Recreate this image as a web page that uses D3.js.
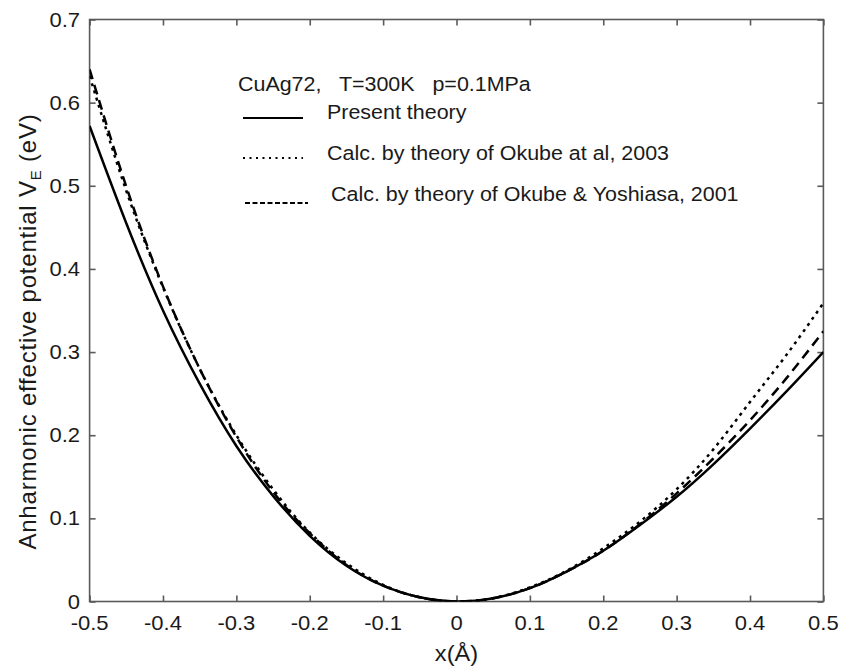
<!DOCTYPE html>
<html>
<head>
<meta charset="utf-8">
<script src="https://cdn.jsdelivr.net/npm/d3@7"></script>
<style>
  html, body { margin: 0; padding: 0; background: #fff; }
  svg text { font-family: "Liberation Sans", Arial, sans-serif; fill: #1a1a1a; white-space: pre; }
</style>
</head>
<body>
<svg id="chart" width="843" height="666"></svg>
<script>
// Displacement x (Å)
const xValues = [-0.5, -0.45, -0.4, -0.35, -0.3, -0.25, -0.2, -0.15, -0.1, -0.05, 0,
                 0.05, 0.1, 0.15, 0.2, 0.25, 0.3, 0.35, 0.4, 0.45, 0.5];

// Anharmonic effective potential V_E (eV)
const presentTheory = [0.572, 0.455, 0.350, 0.262, 0.187, 0.127, 0.079, 0.043, 0.019, 0.005, 0,
                       0.004, 0.016, 0.036, 0.061, 0.092, 0.126, 0.165, 0.208, 0.253, 0.300];
const okube2003 = [0.632, 0.494, 0.378, 0.280, 0.200, 0.135, 0.083, 0.046, 0.020, 0.005, 0,
                   0.004, 0.017, 0.037, 0.064, 0.096, 0.135, 0.183, 0.240, 0.297, 0.359];
const okubeYoshiasa2001 = [0.640, 0.499, 0.379, 0.280, 0.198, 0.132, 0.082, 0.044, 0.019, 0.005, 0,
                           0.004, 0.016, 0.036, 0.061, 0.093, 0.130, 0.172, 0.218, 0.269, 0.325];

const xTicks = [-0.5, -0.4, -0.3, -0.2, -0.1, 0, 0.1, 0.2, 0.3, 0.4, 0.5];
const yTicks = [0, 0.1, 0.2, 0.3, 0.4, 0.5, 0.6, 0.7];

const legendTitle = "CuAg72,   T=300K   p=0.1MPa";
const legendLabels = ["Present theory",
                      "Calc. by theory of Okube at al, 2003",
                      "Calc. by theory of Okube & Yoshiasa, 2001"];

const svg = d3.select("#chart");
const plot = { left: 89.6, right: 823.4, top: 19.5, bottom: 601.5 };

const x = d3.scaleLinear().domain([-0.5, 0.5]).range([plot.left, plot.right]);
const y = d3.scaleLinear().domain([0, 0.7]).range([plot.bottom, plot.top]);

const axisColor = "#5a5a5a";
const tickLen = 6;
// Plain hyphen for negatives, "0" for zero
const fmt = d => (d === 0 ? "0" : d.toFixed(1));

// Text drawn slightly wide, as in the printed figure
const wide = 1.1;
function label(parent, px, py, str, size, anchor) {
  return parent.append("text")
    .attr("transform", `translate(${px},${py}) scale(${wide},1)`)
    .attr("font-size", size)
    .attr("text-anchor", anchor || "start")
    .text(str);
}

// Frame
svg.append("rect")
  .attr("x", plot.left).attr("y", plot.top)
  .attr("width", plot.right - plot.left).attr("height", plot.bottom - plot.top)
  .attr("fill", "none").attr("stroke", axisColor).attr("stroke-width", 1.6);

// Inward ticks on all four sides
const axes = [
  svg.append("g").attr("transform", `translate(0,${plot.bottom})`)
    .call(d3.axisBottom(x).tickValues(xTicks).tickSizeInner(-tickLen).tickSizeOuter(0).tickFormat("")),
  svg.append("g").attr("transform", `translate(0,${plot.top})`)
    .call(d3.axisTop(x).tickValues(xTicks).tickSizeInner(-tickLen).tickSizeOuter(0).tickFormat("")),
  svg.append("g").attr("transform", `translate(${plot.left},0)`)
    .call(d3.axisLeft(y).tickValues(yTicks).tickSizeInner(-tickLen).tickSizeOuter(0).tickFormat("")),
  svg.append("g").attr("transform", `translate(${plot.right},0)`)
    .call(d3.axisRight(y).tickValues(yTicks).tickSizeInner(-tickLen).tickSizeOuter(0).tickFormat(""))
];
axes.forEach(g => {
  g.select(".domain").remove();
  g.selectAll(".tick line").attr("stroke", axisColor).attr("stroke-width", 1.6);
  g.selectAll(".tick text").remove();
});

// Tick labels
const tickLabels = svg.append("g");
xTicks.forEach(t => label(tickLabels, x(t), 630, fmt(t), 20, "middle"));
yTicks.forEach(t => label(tickLabels, 80, y(t) + 7, fmt(t), 20, "end"));

// Axis titles
label(svg, (plot.left + plot.right) / 2, 661, "x(Å)", 21.5, "middle");

const yTitle = svg.append("text")
  .attr("transform", `translate(36,${(plot.top + plot.bottom) / 2 + 21}) rotate(-90)`)
  .attr("text-anchor", "middle").attr("font-size", 24)
  .attr("letter-spacing", 0.8);
yTitle.append("tspan").text("Anharmonic effective potential V");
yTitle.append("tspan").attr("font-size", 15).attr("dy", 5).text("E");
yTitle.append("tspan").attr("dy", -5).text(" (eV)");

// Curves
const series = [
  { values: presentTheory, dash: null },
  { values: okube2003, dash: "3,4.5" },
  { values: okubeYoshiasa2001, dash: "10,6" }
];

const line = d3.line()
  .x((d, i) => x(xValues[i]))
  .y(d => y(d))
  .curve(d3.curveNatural);

svg.append("clipPath").attr("id", "plot-clip")
  .append("rect")
  .attr("x", plot.left).attr("y", plot.top)
  .attr("width", plot.right - plot.left).attr("height", plot.bottom - plot.top);

svg.append("g").attr("clip-path", "url(#plot-clip)")
  .selectAll("path").data(series).join("path")
  .attr("d", s => line(s.values))
  .attr("fill", "none")
  .attr("stroke", "#000")
  .attr("stroke-width", 2.5)
  .attr("stroke-dasharray", s => s.dash);

// Legend
const legend = svg.append("g");
label(legend, 238, 91, legendTitle, 19.5);

const legendRows = [
  { y: 119, lineY: 118, x1: 243, x2: 303, tx: 327, dash: null, label: legendLabels[0] },
  { y: 160, lineY: 158, x1: 243, x2: 303, tx: 327, dash: "2,4.5", label: legendLabels[1] },
  { y: 201, lineY: 203, x1: 245, x2: 308, tx: 331, dash: "5,2.5", label: legendLabels[2] }
];

legendRows.forEach(r => {
  legend.append("line")
    .attr("x1", r.x1).attr("x2", r.x2).attr("y1", r.lineY).attr("y2", r.lineY)
    .attr("stroke", "#000").attr("stroke-width", 2)
    .attr("stroke-dasharray", r.dash);
  label(legend, r.tx, r.y, r.label, 19.5);
});
</script>
</body>
</html>
